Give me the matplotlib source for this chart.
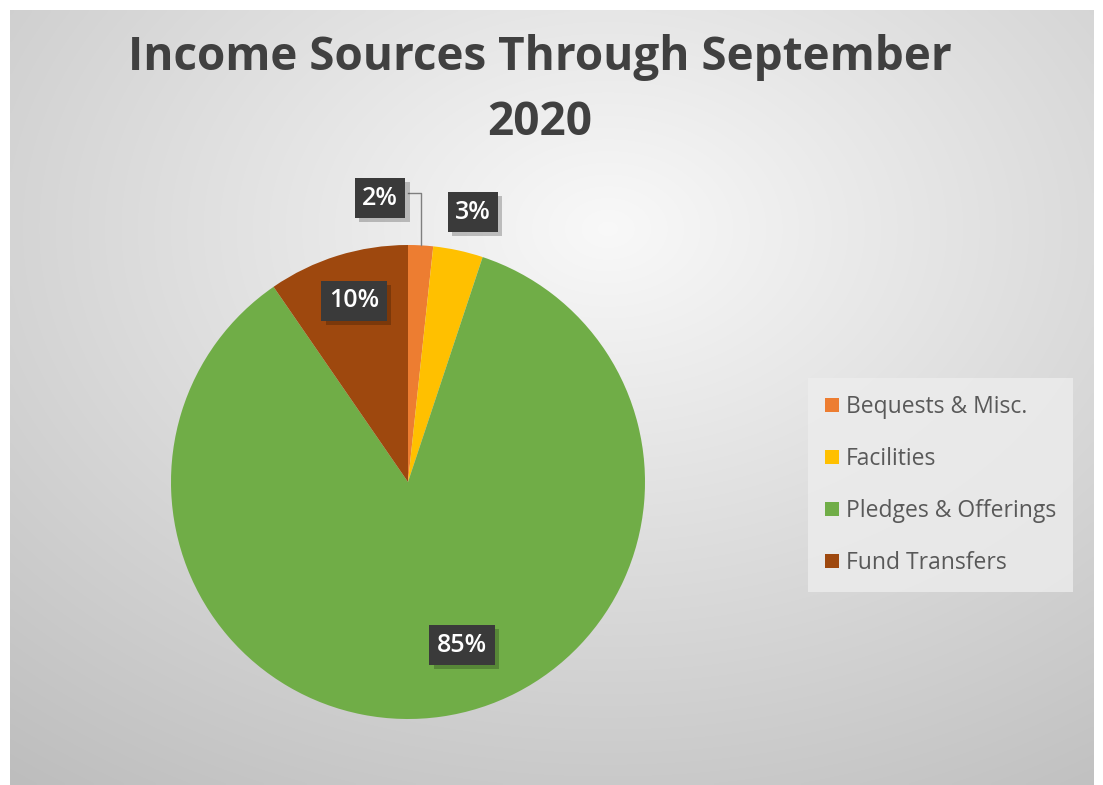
"""
Income sources through September 2020 - pie chart with dark data-label boxes.
"""

import matplotlib

matplotlib.use("Agg")

import matplotlib.pyplot as plt
import matplotlib.patheffects as pe
import numpy as np

FIG_W, FIG_H = 1103, 785
DPI = 100

CATEGORIES = ["Bequests & Misc.", "Facilities", "Pledges & Offerings", "Fund Transfers"]
SHARES = [1.7, 3.4, 85.3, 9.6]
COLORS = ["#ED7D31", "#FFC000", "#70AD47", "#9E480E"]

TITLE = "Income Sources Through September\n2020"
TITLE_COLOR = "#404040"
LABEL_BOX = "#3A3A3A"

# label centres in pie-axes data units (radius = 1)
LABEL_POS = [(-0.118, 1.198), (0.274, 1.139), (0.228, -0.688), (-0.228, 0.764)]


def px(x, y):
    # pixel (from top-left) to figure fraction
    return x / FIG_W, 1 - y / FIG_H


def draw_background(fig):
    bg = fig.add_axes([10 / FIG_W, 0, 1084 / FIG_W, 775 / FIG_H], zorder=0)
    h, w = 200, 280
    yy, xx = np.mgrid[0:h, 0:w]
    cx, cy = w * 0.55, h * 0.28
    dist = np.hypot((xx - cx) / w, (yy - cy) / h) / 0.85
    light = np.clip(0.975 - 0.22 * dist, 0.74, 0.98)
    rgb = np.dstack([light, light, light])
    bg.imshow(rgb, aspect="auto", extent=(0, 1, 0, 1), interpolation="bilinear")
    bg.set_axis_off()


def main():
    plt.rcParams["font.family"] = ["Open Sans", "DejaVu Sans"]
    fig = plt.figure(figsize=(FIG_W / DPI, FIG_H / DPI), dpi=DPI, facecolor="white")
    draw_background(fig)

    radius_px = 237
    cx, cy = 408, 482
    ax = fig.add_axes(
        [(cx - radius_px) / FIG_W, (FIG_H - cy - radius_px) / FIG_H,
         2 * radius_px / FIG_W, 2 * radius_px / FIG_H],
        zorder=2,
    )
    wedges, _ = ax.pie(
        SHARES,
        colors=COLORS,
        startangle=90,
        counterclock=False,
        radius=1,
        wedgeprops={"linewidth": 0},
    )
    ax.set_xlim(-1, 1)
    ax.set_ylim(-1, 1)
    ax.set_aspect("auto")
    ax.set_axis_off()

    # leader line for the smallest slice
    mid_frac = SHARES[0] / 2 / 100
    ang = np.deg2rad(90 - 360 * mid_frac)
    ex, ey = np.cos(ang), np.sin(ang)
    lx, ly = LABEL_POS[0]
    ax.plot([lx + 0.12, ex, ex], [ly + 0.02, ly + 0.02, ey], color="#7F7F7F",
            linewidth=1.0, clip_on=False, zorder=3)

    for (x, y), share in zip(LABEL_POS, SHARES):
        t = ax.text(x, y, f"{share:.0f}%", fontsize=18, fontweight="semibold", color="white",
                    ha="center", va="center", clip_on=False, zorder=4,
                    bbox={"boxstyle": "square,pad=0.3", "facecolor": LABEL_BOX,
                          "edgecolor": "none"})
        t.get_bbox_patch().set_path_effects(
            [pe.SimplePatchShadow(offset=(3, -3), shadow_rgbFace="#000000", alpha=0.22),
             pe.Normal()]
        )

    tx, ty = px(540, 90)
    fig.text(tx, ty, TITLE, ha="center", va="center", fontsize=33, fontweight="bold",
             color=TITLE_COLOR, linespacing=1.5, zorder=5)

    lx0, ly0 = px(808, 378)
    leg = fig.legend(
        wedges,
        CATEGORIES,
        loc="upper left",
        bbox_to_anchor=(lx0, ly0),
        fontsize=16.5,
        frameon=True,
        fancybox=False,
        facecolor="#EDEDED",
        edgecolor="none",
        framealpha=0.8,
        handlelength=0.6,
        handleheight=0.6,
        handletextpad=0.3,
        labelspacing=1.22,
        borderpad=0.75,
        borderaxespad=0,
    )
    leg.set_zorder(5)
    for t in leg.get_texts():
        t.set_color("#595959")

    fig.savefig("out.png", dpi=DPI, facecolor="white")


if __name__ == "__main__":
    main()
